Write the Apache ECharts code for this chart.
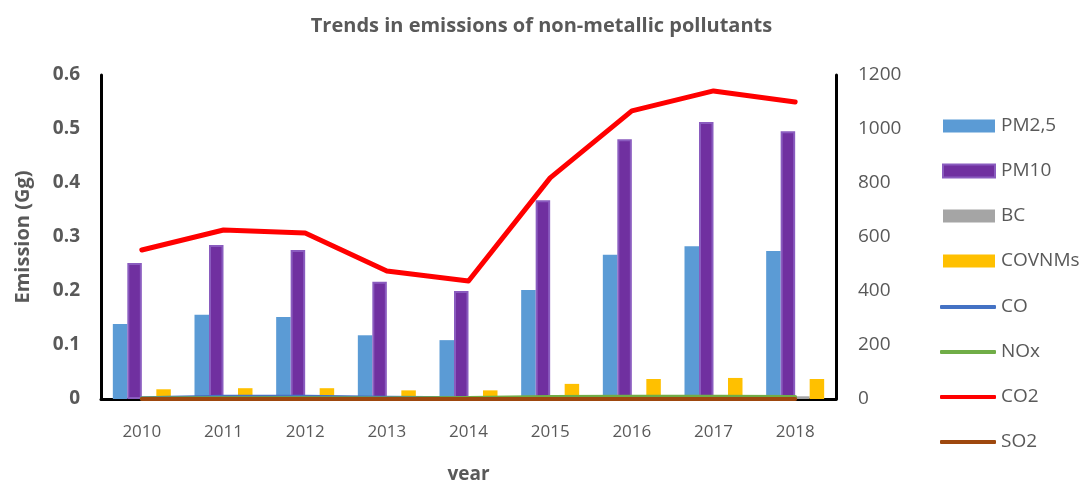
<!DOCTYPE html>
<html>
<head>
<meta charset="utf-8">
<script src="https://cdn.jsdelivr.net/npm/echarts@6/dist/echarts.min.js"></script>
<style>html,body{margin:0;padding:0;background:#fff}#c{width:1083px;height:480px}</style>
</head>
<body>
<div id="c"></div>
<script>
const years = ['2010','2011','2012','2013','2014','2015','2016','2017','2018'];
const leftTicks = [0, 0.1, 0.2, 0.3, 0.4, 0.5, 0.6];
const rightTicks = [0, 200, 400, 600, 800, 1000, 1200];
// bars (left axis, Gg)
const pm25 = [0.139, 0.156, 0.152, 0.118, 0.109, 0.202, 0.267, 0.283, 0.274];
const pm10 = [0.252, 0.285, 0.276, 0.217, 0.200, 0.368, 0.481, 0.513, 0.496];
const bc = [0.003, 0.004, 0.004, 0.003, 0.003, 0.004, 0.005, 0.005, 0.005];
const covnm = [0.018, 0.020, 0.020, 0.016, 0.016, 0.028, 0.037, 0.039, 0.037];
// lines (right axis)
const co = [3, 8, 8, 5, 3, 4, 5, 5, 5];
const nox = [2, 3, 3, 2, 4, 7, 8, 8, 7];
const co2 = [552, 626, 615, 474, 437, 819, 1067, 1141, 1100];
const so2 = [0, 0, 0, 0, 0, 0, 0, 0, 0];

const FONT = '"Open Sans", sans-serif';
const GREY = '#595959';
const chart = echarts.init(document.getElementById('c'));
function lineS(name, data, color, z, w) {
  return { name, type: 'line', yAxisIndex: 1, data, showSymbol: false, symbol: 'none', z: z,
    lineStyle: { color, width: w || 4, cap: 'round', join: 'round' }, itemStyle: { color } };
}
function barS(name, data, color, extra) {
  return Object.assign({ name, type: 'bar', yAxisIndex: 0, data, barWidth: 14.5, barGap: '0%',
    itemStyle: { color } }, extra || {});
}
chart.setOption({
  animation: false,
  backgroundColor: '#fff',
  title: { text: 'Trends in emissions of non-metallic pollutants', left: 'center', top: 11,
    textStyle: { fontFamily: FONT, fontSize: 20, fontWeight: 'bold', color: GREY } },
  legend: [
    { data: ['PM2,5', 'PM10', 'BC', 'COVNMs'], orient: 'vertical', left: 937, top: 109,
      itemWidth: 52, itemHeight: 13, itemGap: 21, icon: 'rect',
      textStyle: { fontFamily: FONT, fontSize: 19, color: GREY, lineHeight: 24, padding: [0, 0, 0, 1] } },
    { data: ['CO', 'NOx', 'CO2', 'SO2'], orient: 'vertical', left: 935, top: 290,
      itemWidth: 56, itemHeight: 4, itemGap: 21, icon: 'roundRect',
      textStyle: { fontFamily: FONT, fontSize: 19, color: GREY, lineHeight: 24, padding: [0, 0, 0, 0] } }
  ],
  grid: { left: 101, right: 247, top: 75, bottom: 81, containLabel: false, outerBoundsMode: 'none' },
  xAxis: { type: 'category', data: years, boundaryGap: true,
    axisLine: { lineStyle: { color: '#000', width: 3 } }, axisTick: { show: false },
    axisLabel: { fontFamily: FONT, fontSize: 17, color: GREY, margin: 25 },
    name: 'year', nameLocation: 'middle', nameGap: 66,
    nameTextStyle: { fontFamily: FONT, fontSize: 19, fontWeight: 'bold', color: GREY } },
  yAxis: [
    { type: 'value', min: leftTicks[0], max: leftTicks[leftTicks.length - 1], interval: 0.1,
      axisLine: { show: true, lineStyle: { color: '#000', width: 3 } }, axisTick: { show: false },
      splitLine: { show: false },
      axisLabel: { fontFamily: FONT, fontSize: 19, fontWeight: 'bold', color: GREY, margin: 21,
        formatter: v => v === 0 ? '0' : v.toFixed(1) },
      name: 'Emission (Gg)', nameLocation: 'middle', nameGap: 68,
      nameTextStyle: { fontFamily: FONT, fontSize: 20, fontWeight: 'bold', color: GREY } },
    { type: 'value', min: rightTicks[0], max: rightTicks[rightTicks.length - 1], interval: 200,
      position: 'right',
      axisLine: { show: true, lineStyle: { color: '#000', width: 3 } }, axisTick: { show: false },
      splitLine: { show: false },
      axisLabel: { fontFamily: FONT, fontSize: 19, color: GREY, margin: 22, formatter: v => String(v) } }
  ],
  series: [
    barS('PM2,5', pm25, '#5B9BD5'),
    barS('PM10', pm10, '#7030A0', { itemStyle: { color: '#7030A0', borderColor: '#8a5cbf', borderWidth: 2 } }),
    barS('BC', bc, '#A5A5A5'),
    barS('COVNMs', covnm, '#FFC000'),
    lineS('CO', co, '#4472C4', 3),
    lineS('NOx', nox, '#70AD47', 3),
    lineS('CO2', co2, '#FF0000', 4, 5),
    lineS('SO2', so2, '#9E480E', 3)
  ]
});
</script>
</body>
</html>
